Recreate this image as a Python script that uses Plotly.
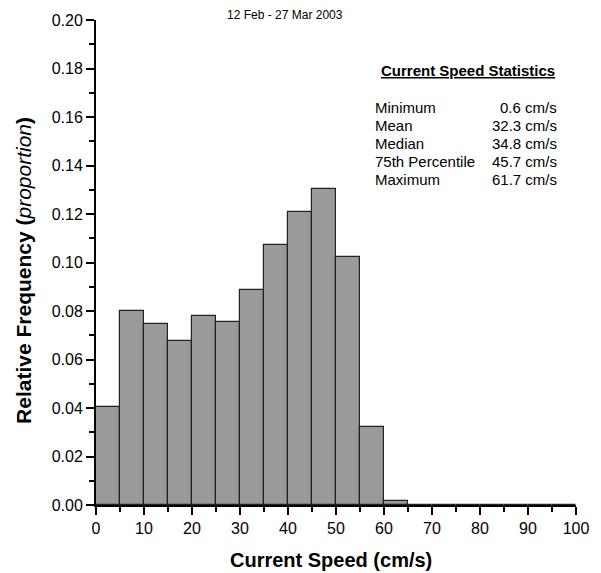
import plotly.graph_objects as go

# ---- data ----
bin_start = [0, 5, 10, 15, 20, 25, 30, 35, 40, 45, 50, 55, 60, 65, 70, 75, 80, 85, 90, 95]
bin_width = 5
rel_freq = [0.0404, 0.0799, 0.0746, 0.0676, 0.0778, 0.0755, 0.0887, 0.1072, 0.1209, 0.1302,
            0.1023, 0.0320, 0.0018, 0, 0, 0, 0, 0, 0, 0]
stat_labels = ["Minimum", "Mean", "Median", "75th Percentile", "Maximum"]
stat_values = ["0.6 cm/s", "32.3 cm/s", "34.8 cm/s", "45.7 cm/s", "61.7 cm/s"]
stats_title = "Current Speed Statistics"
period_title = "12 Feb - 27 Mar 2003"
x_title = "Current Speed (cm/s)"

FONT = "Arial, Liberation Sans, sans-serif"

W, H = 601, 573
ML, MR, MT, MB = 96, 15, 15, 68
PW, PH = W - ML - MR, H - MT - MB


def px_x(x):
    return (x - ML) / PW


def px_y(y):
    return (MT + PH - y) / PH


fig = go.Figure()
fig.add_trace(go.Bar(
    x=[s + bin_width / 2 for s in bin_start],
    y=rel_freq,
    width=bin_width,
    marker=dict(color="#9a9a9a", line=dict(color="#222222", width=1.2)),
    showlegend=False,
    hoverinfo="skip",
))

ann = []
# period title at the very top
ann.append(dict(text=period_title, xref="paper", yref="paper", x=px_x(289), y=px_y(1),
                xanchor="center", yanchor="top", showarrow=False,
                font=dict(family=FONT, size=12, color="black")))
# statistics header
ann.append(dict(text="<b><u>" + stats_title + "</u></b>", xref="paper", yref="paper",
                x=px_x(476), y=px_y(66), xanchor="center", yanchor="middle", showarrow=False,
                font=dict(family=FONT, size=15, color="black")))
row_y = [103, 122, 140, 158, 176]
for lab, val, ry in zip(stat_labels, stat_values, row_y):
    ann.append(dict(text=lab, xref="paper", yref="paper", x=px_x(379), y=px_y(ry),
                    xanchor="left", yanchor="middle", showarrow=False,
                    font=dict(family=FONT, size=15, color="black")))
    ann.append(dict(text=val, xref="paper", yref="paper", x=px_x(569), y=px_y(ry),
                    xanchor="right", yanchor="middle", showarrow=False,
                    font=dict(family=FONT, size=15, color="black")))
# axis titles
ann.append(dict(text="<b>" + x_title + "</b>", xref="paper", yref="paper",
                x=px_x(336), y=px_y(561), xanchor="center", yanchor="middle", showarrow=False,
                font=dict(family=FONT, size=20, color="black")))
ann.append(dict(text="<b>Relative Frequency (</b><i>proportion</i><b>)</b>", xref="paper", yref="paper",
                x=px_x(22), y=px_y(268), xanchor="center", yanchor="middle", showarrow=False,
                textangle=-90, font=dict(family=FONT, size=21, color="black")))

fig.update_layout(
    width=W, height=H,
    margin=dict(l=ML, r=MR, t=MT, b=MB, pad=0),
    paper_bgcolor="white", plot_bgcolor="white",
    bargap=0,
    annotations=ann,
    font=dict(family=FONT, color="black"),
)
fig.update_xaxes(
    range=[0, 100], dtick=10, tick0=0,
    showline=True, linecolor="black", linewidth=2,
    ticks="outside", ticklen=8, tickwidth=2, tickcolor="black",
    minor=dict(dtick=5, tick0=0, ticks="outside", ticklen=5, tickwidth=2, tickcolor="black"),
    showgrid=False, zeroline=False,
    tickfont=dict(family=FONT, size=16, color="black"),
)
fig.update_yaxes(
    range=[0, 0.2], dtick=0.02, tick0=0, tickformat=".2f",
    showline=True, linecolor="black", linewidth=2,
    ticks="outside", ticklen=8, tickwidth=2, tickcolor="black",
    minor=dict(dtick=0.01, tick0=0, ticks="outside", ticklen=5, tickwidth=2, tickcolor="black"),
    showgrid=False, zeroline=False,
    tickfont=dict(family=FONT, size=16, color="black"),
)

fig.write_html("out.html")
